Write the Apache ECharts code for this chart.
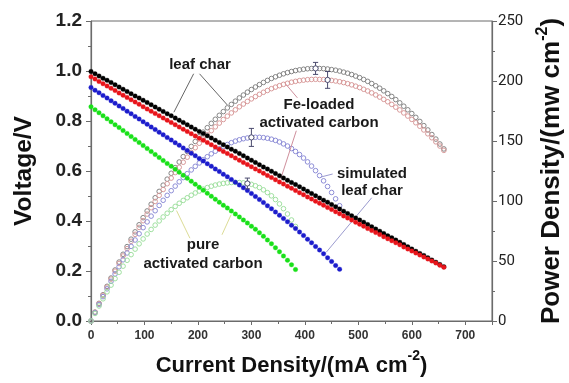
<!DOCTYPE html>
<html>
<head>
<meta charset="utf-8">
<script src="https://cdn.jsdelivr.net/npm/echarts@6/dist/echarts.min.js"></script>
<style>
  html, body { margin: 0; padding: 0; background: #fff; }
  #chart { width: 569px; height: 383px; }
</style>
</head>
<body>
<div id="chart"></div>
<script>
// Current density (mA cm^-2), one sample every 7.5 mA; shorter series use the leading part
const currentDensity = [0,7.5,15,22.5,30,37.5,45,52.5,60,67.5,75,82.5,90,97.5,105,112.5,120,127.5,135,142.5,
  150,157.5,165,172.5,180,187.5,195,202.5,210,217.5,225,232.5,240,247.5,255,262.5,270,277.5,285,292.5,
  300,307.5,315,322.5,330,337.5,345,352.5,360,367.5,375,382.5,390,397.5,405,412.5,420,427.5,435,442.5,
  450,457.5,465,472.5,480,487.5,495,502.5,510,517.5,525,532.5,540,547.5,555,562.5,570,577.5,585,592.5,
  600,607.5,615,622.5,630,637.5,645,652.5,660];

// Cell voltage (V)
const leafCharV = [0.998,0.989,0.980,0.971,0.963,0.954,0.945,0.936,0.927,0.918,
  0.909,0.900,0.892,0.883,0.874,0.865,0.856,0.847,0.838,0.829,
  0.821,0.812,0.803,0.794,0.785,0.776,0.767,0.758,0.750,0.741,
  0.732,0.723,0.714,0.705,0.696,0.687,0.679,0.670,0.661,0.652,
  0.643,0.634,0.625,0.616,0.608,0.599,0.590,0.581,0.572,0.563,
  0.554,0.546,0.537,0.528,0.519,0.510,0.501,0.492,0.483,0.475,
  0.466,0.457,0.448,0.439,0.430,0.421,0.412,0.404,0.395,0.386,
  0.377,0.368,0.359,0.350,0.341,0.333,0.324,0.315,0.306,0.297,
  0.288,0.279,0.270,0.262,0.253,0.244,0.235,0.226,0.217];
const feLoadedV = [0.977,0.968,0.958,0.949,0.940,0.931,0.922,0.912,0.903,0.894,
  0.885,0.876,0.867,0.857,0.848,0.839,0.830,0.821,0.812,0.803,
  0.794,0.785,0.776,0.767,0.758,0.749,0.740,0.731,0.723,0.714,
  0.705,0.696,0.687,0.678,0.670,0.661,0.652,0.643,0.634,0.626,
  0.617,0.608,0.600,0.591,0.582,0.574,0.565,0.556,0.548,0.539,
  0.531,0.522,0.513,0.505,0.496,0.488,0.479,0.471,0.463,0.454,
  0.446,0.437,0.429,0.420,0.412,0.404,0.395,0.387,0.379,0.370,
  0.362,0.354,0.346,0.337,0.329,0.321,0.313,0.305,0.296,0.288,
  0.280,0.272,0.264,0.256,0.248,0.240,0.232,0.223,0.215];
const simulatedV = [0.934,0.923,0.913,0.902,0.892,0.881,0.871,0.860,0.850,0.839,
  0.829,0.818,0.808,0.797,0.787,0.776,0.766,0.755,0.745,0.734,
  0.724,0.713,0.703,0.692,0.682,0.671,0.661,0.650,0.640,0.629,
  0.619,0.608,0.598,0.587,0.577,0.566,0.555,0.544,0.533,0.522,
  0.510,0.498,0.486,0.474,0.461,0.449,0.436,0.423,0.410,0.397,
  0.383,0.370,0.356,0.342,0.327,0.313,0.298,0.284,0.269,0.253,
  0.238,0.222,0.207];
const pureV = [0.857,0.845,0.833,0.821,0.809,0.797,0.785,0.774,0.762,0.750,
  0.738,0.726,0.714,0.702,0.690,0.678,0.666,0.654,0.642,0.630,
  0.619,0.607,0.595,0.583,0.571,0.559,0.547,0.535,0.523,0.511,
  0.499,0.487,0.475,0.463,0.452,0.440,0.428,0.416,0.404,0.392,
  0.379,0.367,0.353,0.339,0.324,0.309,0.293,0.277,0.260,0.243,
  0.225,0.206];

// Power density (mW cm^-2)
const leafCharP = [0,7.4,14.7,21.9,28.9,35.8,42.5,49.1,55.6,62.0,
  68.2,74.3,80.2,86.1,91.7,97.3,102.7,108.0,113.2,118.2,
  123.1,127.8,132.5,137.0,141.3,145.5,149.6,153.6,157.4,161.1,
  164.7,168.1,171.4,174.5,177.6,180.5,183.2,185.9,188.3,190.7,
  192.9,195.0,197.0,198.8,200.5,202.1,203.5,204.8,206.0,207.0,
  207.9,208.7,209.3,209.8,210.2,210.4,210.5,210.4,210.3,210.0,
  209.5,209.0,208.3,207.4,206.5,205.4,204.1,202.8,201.3,199.7,
  197.9,196.0,194.0,191.8,189.5,187.1,184.5,181.8,179.0,176.0,
  172.9,169.7,166.3,162.8,159.2,155.4,151.6,147.5,143.4];
const feLoadedP = [0,7.3,14.4,21.4,28.2,34.9,41.5,47.9,54.2,60.3,
  66.4,72.2,78.0,83.6,89.1,94.4,99.6,104.7,109.6,114.4,
  119.1,123.7,128.1,132.3,136.5,140.5,144.4,148.1,151.7,155.2,
  158.6,161.8,164.9,167.9,170.7,173.4,176.0,178.5,180.8,183.0,
  185.1,187.0,188.9,190.6,192.1,193.6,194.9,196.1,197.2,198.1,
  199.0,199.7,200.3,200.7,201.1,201.3,201.4,201.3,201.2,200.9,
  200.5,200.0,199.4,198.7,197.8,196.8,195.7,194.5,193.1,191.7,
  190.1,188.4,186.6,184.7,182.7,180.5,178.2,175.9,173.4,170.8,
  168.0,165.2,162.3,159.2,156.0,152.7,149.3,145.8,142.2];
const simulatedP = [0,6.9,13.7,20.3,26.8,33.1,39.2,45.2,51.0,56.7,
  62.2,67.5,72.7,77.8,82.6,87.4,91.9,96.3,100.6,104.7,
  108.6,112.4,116.0,119.5,122.8,125.9,128.9,131.7,134.4,136.9,
  139.3,141.5,143.5,145.4,147.1,148.6,149.9,151.0,151.9,152.5,
  153.0,153.1,153.1,152.8,152.3,151.5,150.5,149.2,147.6,145.8,
  143.7,141.3,138.7,135.8,132.6,129.1,125.3,121.2,116.8,112.1,
  107.1,101.8,96.1];
const pureP = [0,6.3,12.5,18.5,24.3,29.9,35.3,40.6,45.7,50.6,
  55.3,59.9,64.3,68.4,72.5,76.3,79.9,83.4,86.7,89.8,
  92.8,95.5,98.1,100.5,102.7,104.8,106.7,108.3,109.9,111.2,
  112.3,113.3,114.1,114.7,115.1,115.4,115.5,115.4,115.1,114.6,
  113.9,112.7,111.2,109.3,107.0,104.3,101.2,97.6,93.6,89.2,
  84.2,78.8];

// Error bars on the peak power points
const errCurrent = [420, 442.5, 300, 292.5];
const errPower = [210.5, 200.9, 153.0, 114.6];
const errHalf = [5, 7, 7.5, 4.5];

// Axis ticks
const xTicks = { min: 0, max: 750, step: 100 };
const vTicks = { min: 0, max: 1.2, step: 0.2 };
const pTicks = { min: 0, max: 250, step: 50 };

const pairs = (ys) => ys.map((y, i) => [currentDensity[i], y]);

const AX = '#6b6b6b';
const FONT = '"Liberation Sans", Arial, sans-serif';

function dots(name, ys, color) {
  return {
    type: 'scatter', name, yAxisIndex: 0, data: pairs(ys),
    symbol: 'circle', symbolSize: 4.6, z: 5, silent: true,
    itemStyle: { color, borderColor: color, borderWidth: 0.3, opacity: 1 }
  };
}
function rings(name, ys, color) {
  return {
    type: 'scatter', name, yAxisIndex: 1, data: pairs(ys),
    symbol: 'circle', symbolSize: 4.6, z: 3, silent: true,
    itemStyle: { color: 'rgba(0,0,0,0)', borderColor: color, borderWidth: 1, opacity: 1 }
  };
}
function leader(color, a, b) {
  return {
    silent: true, symbol: ['none', 'none'], label: { show: false },
    lineStyle: { color, width: 1, type: 'solid', opacity: 1 },
    emphasis: { disabled: true },
    data: [[{ coord: a }, { coord: b }]]
  };
}

const chart = echarts.init(document.getElementById('chart'), null, { renderer: 'canvas' });

const option = {
  animation: false,
  backgroundColor: '#fff',
  grid: { left: 91, right: 77, top: 21, bottom: 62, show: true, borderColor: AX, borderWidth: 1, outerBoundsMode: 'none' },
  xAxis: {
    type: 'value', min: xTicks.min, max: xTicks.max, interval: xTicks.step,
    axisLine: { show: true, lineStyle: { color: AX, width: 1.2 } },
    axisTick: { show: true, length: 4, lineStyle: { color: AX } },
    minorTick: { show: true, splitNumber: 2, length: 3, lineStyle: { color: AX } },
    splitLine: { show: false },
    axisLabel: { fontFamily: FONT, fontWeight: 'bold', fontSize: 12, color: '#333', margin: 9, showMaxLabel: false,
      formatter: v => (v % 100 === 0 ? String(v) : '') },
    name: '{m|Current Density/(mA cm}{s|-2}{m|)}',
    nameLocation: 'middle', nameGap: 28,
    nameTextStyle: {
      rich: {
        m: { fontFamily: FONT, fontWeight: 'bold', fontSize: 22, color: '#111', lineHeight: 28, verticalAlign: 'bottom' },
        s: { fontFamily: FONT, fontWeight: 'bold', fontSize: 14, color: '#111', lineHeight: 12, verticalAlign: 'top' }
      }
    }
  },
  yAxis: [
    {
      type: 'value', min: vTicks.min, max: vTicks.max, interval: vTicks.step, position: 'left',
      axisLine: { show: true, lineStyle: { color: AX, width: 1.2 } },
      axisTick: { show: true, length: 5, lineStyle: { color: AX } },
      minorTick: { show: true, splitNumber: 2, length: 3, lineStyle: { color: AX } },
      splitLine: { show: false },
      axisLabel: { fontFamily: FONT, fontWeight: 'bold', fontSize: 19, color: '#222', margin: 9,
        formatter: v => v.toFixed(1) },
      name: 'Voltage/V', nameLocation: 'middle', nameRotate: 90, nameGap: 54,
      nameTextStyle: { fontFamily: FONT, fontWeight: 'bold', fontSize: 24.5, color: '#111' }
    },
    {
      type: 'value', min: pTicks.min, max: pTicks.max, interval: pTicks.step, position: 'right',
      axisLine: { show: true, lineStyle: { color: AX, width: 1.2 } },
      axisTick: { show: true, length: 5, lineStyle: { color: AX } },
      minorTick: { show: true, splitNumber: 2, length: 3, lineStyle: { color: AX } },
      splitLine: { show: false },
      axisLabel: { fontFamily: 'Roboto, sans-serif', fontSize: 15, color: '#222', margin: 6 },
      name: '{m|Power Density/(mw cm}{s|-2}{m|)}', nameLocation: 'middle', nameRotate: 90, nameGap: 43,
      nameTextStyle: {
        rich: {
          m: { fontFamily: FONT, fontWeight: 'bold', fontSize: 26, color: '#111', lineHeight: 30, verticalAlign: 'bottom' },
          s: { fontFamily: FONT, fontWeight: 'bold', fontSize: 16, color: '#111', lineHeight: 16, verticalAlign: 'top' }
        }
      }
    }
  ],
  series: [
    Object.assign(rings('leaf char power', leafCharP, '#858585'),
      { markLine: leader('#666666', [203, 206], [255, 180]) }),
    Object.assign(rings('Fe-loaded power', feLoadedP, '#d89a9a'),
      { markLine: leader('#cf8f9c', [365, 197], [386, 186]) }),
    Object.assign(rings('simulated power', simulatedP, '#8d8dd6'),
      { markLine: leader('#9b9bcf', [430, 120], [452, 122.5]) }),
    Object.assign(rings('pure power', pureP, '#9fdf9f'),
      { markLine: leader('#dcdc96', [185, 69], [160, 92]) }),
    Object.assign(dots('leaf char', leafCharV, '#000000'),
      { markLine: leader('#666666', [192, 0.989], [155, 0.835]) }),
    Object.assign(dots('Fe-loaded activated carbon', feLoadedV, '#e8141a'),
      { markLine: leader('#cf8f9c', [384, 0.761], [355, 0.57]) }),
    Object.assign(dots('simulated leaf char', simulatedV, '#1c1ccc'),
      { markLine: leader('#9b9bcf', [525, 0.493], [440, 0.275]) }),
    Object.assign(dots('pure activated carbon', pureV, '#19e019'),
      { markLine: leader('#dcdc96', [245, 0.345], [262, 0.425]) }),
    {
      type: 'custom', name: 'error', yAxisIndex: 1, z: 8, silent: true,
      data: errCurrent.map((c, i) => [c, errPower[i], errHalf[i]]),
      renderItem: (params, api) => {
        const x = api.value(0), c = api.value(1), h = api.value(2);
        const top = api.coord([x, c + h]);
        const bot = api.coord([x, c - h]);
        const mid = api.coord([x, c]);
        const w = 2.6, col = '#4a4a6e';
        const st = { stroke: col, lineWidth: 1, fill: null };
        return {
          type: 'group', children: [
            { type: 'line', shape: { x1: top[0], y1: top[1], x2: bot[0], y2: bot[1] }, style: st },
            { type: 'line', shape: { x1: top[0] - w, y1: top[1], x2: top[0] + w, y2: top[1] }, style: st },
            { type: 'line', shape: { x1: bot[0] - w, y1: bot[1], x2: bot[0] + w, y2: bot[1] }, style: st },
            { type: 'circle', shape: { cx: mid[0], cy: mid[1], r: 2.6 }, style: { stroke: col, lineWidth: 1, fill: '#fff' } }
          ]
        };
      }
    }
  ],
  graphic: [
    { type: 'text', x: 200, y: 65, style: { text: 'leaf char', font: 'bold 15px ' + FONT, fill: '#1a1a1a', align: 'center', verticalAlign: 'middle' } },
    { type: 'text', x: 319, y: 113.5, style: { text: 'Fe-loaded\nactivated carbon', font: 'bold 15px ' + FONT, lineHeight: 18, fill: '#1a1a1a', align: 'center', verticalAlign: 'middle' } },
    { type: 'text', x: 372, y: 182.5, style: { text: 'simulated\nleaf char', font: 'bold 15px ' + FONT, lineHeight: 17, fill: '#1a1a1a', align: 'center', verticalAlign: 'middle' } },
    { type: 'text', x: 203, y: 254.5, style: { text: 'pure\nactivated carbon', font: 'bold 15px ' + FONT, lineHeight: 19, fill: '#1a1a1a', align: 'center', verticalAlign: 'middle' } }
  ]
};

chart.setOption(option);
</script>
</body>
</html>
